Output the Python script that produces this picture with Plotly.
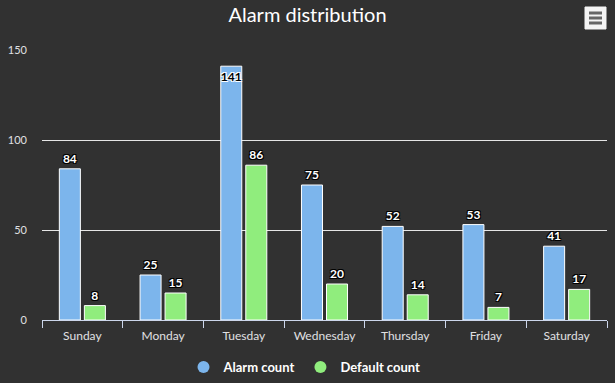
import plotly.graph_objects as go

days = ["Sunday", "Monday", "Tuesday", "Wednesday", "Thursday", "Friday", "Saturday"]
alarm_count = [84, 25, 141, 75, 52, 53, 41]
default_count = [8, 15, 86, 20, 14, 7, 17]
y_ticks = [0, 50, 100, 150]

BLUE = "#7cb5ec"
GREEN = "#90ed7d"
BG = "#313131"
FONT = "Lato, 'Open Sans', sans-serif"

out_shadow = "1px 1px 0px #000, -1px -1px 0px #000, 1px -1px 0px #000, -1px 1px 0px #000"
in_shadow = "1px 1px 0px #fff, -1px -1px 0px #fff, 1px -1px 0px #fff, -1px 1px 0px #fff"

def label_pos(vals):
    return ["inside" if v > 135 else "outside" for v in vals]

fig = go.Figure()
for name, vals, col in [("Alarm count", alarm_count, BLUE), ("Default count", default_count, GREEN)]:
    fig.add_trace(go.Bar(
        x=days, y=vals, name=name, marker=dict(color=col, line=dict(color="#ffffff", width=1)),
        text=[str(v) for v in vals], textposition=label_pos(vals), insidetextanchor="end", textangle=0,
        outsidetextfont=dict(family=FONT, size=12, color="#fff", weight="bold", shadow=out_shadow),
        insidetextfont=dict(family=FONT, size=12, color="#000", weight="bold", shadow=in_shadow),
        constraintext="none", cliponaxis=False, showlegend=False, hoverinfo="skip",
    ))
    fig.add_trace(go.Scatter(
        x=[None], y=[None], mode="markers", name=name,
        marker=dict(symbol="circle", size=12, color=col), showlegend=True, hoverinfo="skip",
    ))

W, H = 615, 383
l, r, t, b = 42, 8, 50, 63
pw, ph = W - l - r, H - t - b
def px(x): return (x - l) / pw
def py(y): return (H - b - y) / ph

shapes = [dict(type="rect", xref="paper", yref="paper", x0=px(585), x1=px(606), y0=py(29), y1=py(7),
               fillcolor="#f4f4f4", line=dict(color="#f4f4f4", width=1), layer="above")]
for yy in [13, 18, 23]:
    shapes.append(dict(type="line", xref="paper", yref="paper", x0=px(589), x1=px(602), y0=py(yy), y1=py(yy),
                       line=dict(color="#666666", width=3), layer="above"))

fig.update_layout(
    width=W, height=H,
    paper_bgcolor=BG, plot_bgcolor=BG,
    margin=dict(l=l, r=r, t=t, b=b, autoexpand=False),
    barmode="group", bargap=0.38, bargroupgap=0.16,
    title=dict(text="Alarm distribution", x=0.5, xanchor="center", y=1 - 15 / H, yanchor="middle",
               font=dict(family=FONT, size=20, color="#ffffff")),
    font=dict(family=FONT, color="#e0e0e3"),
    legend=dict(orientation="h", x=0.5 - 20 / pw, xanchor="center", yref="container", y=1 - 367 / H,
                yanchor="middle",
                font=dict(family=FONT, size=13, color="#ffffff", weight="bold"),
                traceorder="normal"),
    xaxis=dict(type="category", showline=True, linecolor="#ccd6eb", linewidth=1,
               ticks="outside", ticklen=7, tickcolor="#ccd6eb", tickson="boundaries",
               ticklabelstandoff=5,
               showgrid=False, tickfont=dict(family=FONT, size=12, color="#e0e0e3")),
    yaxis=dict(range=[0, 150], tickvals=y_ticks, showgrid=True, gridcolor="#e6e6e6", gridwidth=1,
               zeroline=False, showline=False, ticklabelstandoff=14,
               tickfont=dict(family=FONT, size=11, color="#e0e0e3")),
    shapes=shapes,
)

fig.write_html("out.html", config={"displayModeBar": False},
               post_script="document.body.style.margin='0';document.body.style.background='%s';" % BG)
